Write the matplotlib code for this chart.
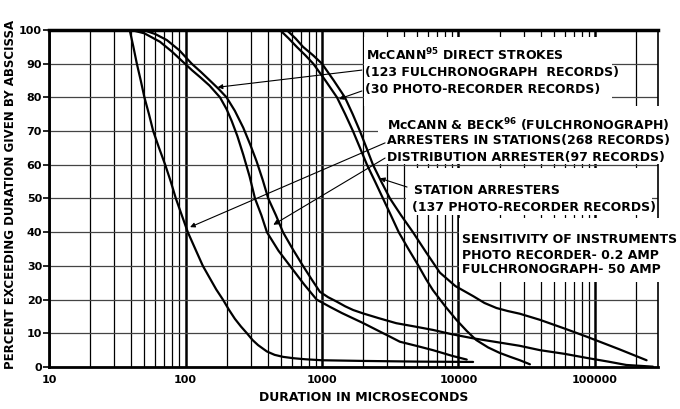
import numpy as np
import matplotlib
matplotlib.use("Agg")
import matplotlib.pyplot as plt
from matplotlib.patches import Rectangle
from matplotlib.ticker import LogLocator, NullFormatter

# duration (microseconds) vs percent exceeding
arr_x = [39, 41.5, 44, 47, 50, 54, 58, 64, 71, 78, 85, 94, 104, 118, 134, 150, 168, 188, 208,
         230, 255, 282, 310, 340, 395, 450, 520, 620, 750, 1000, 2000, 5000, 12800]
arr_y = [100, 95, 90, 85, 80, 75, 70, 65, 60, 55, 50, 45, 40, 35, 30, 26.5, 23, 20, 17,
         14.3, 12, 10, 8, 6.5, 4.6, 3.6, 3, 2.6, 2.3, 2.0, 1.8, 1.6, 1.5]

pair1_x = [40, 50, 65, 80, 96, 112, 128, 150, 179, 200, 218, 240, 265, 295, 323, 360, 395, 480,
           583, 740, 914, 1150, 1400, 2010, 2600, 3150, 3720, 5000, 6500, 9000, 11500]
pair1_y = [100, 99, 96.5, 93.5, 90.5, 88, 86, 83.5, 80, 76.5, 73, 68.5, 63, 56.5, 50, 45, 40, 34.5,
           30, 24.5, 20, 17.8, 16, 13, 10.7, 9, 7.5, 6.2, 5, 3.3, 2.2]

pair2_x = [49, 60, 73, 90, 111, 130, 151, 175, 200, 230, 265, 298, 332, 368, 404, 460, 518, 610,
           726, 840, 966, 1110, 1282, 1480, 1694, 2000, 2600, 3500, 4800, 6500, 9000, 12850,
           19000, 28000, 39500, 60000, 87000, 125000, 170000, 266000]
pair2_y = [100, 98.8, 97, 94, 90, 87.5, 85, 82.5, 80, 76, 71, 66, 61, 55.5, 50, 45, 40, 35,
           30, 26, 22.3, 20.7, 19.4, 18, 16.9, 15.9, 14.5, 13, 12, 11, 9.7, 8.5,
           7.4, 6.3, 5, 3.9, 2.7, 1.6, 0.6, 0.1]

stat1_x = [492, 570, 653, 755, 863, 1060, 1288, 1480, 1687, 1900, 2137, 2450, 2800, 3200, 3650,
           4300, 5100, 5800, 6500, 8000, 9650, 11500, 13500, 16500, 20000, 24000, 28200, 33400]
stat1_y = [100, 97.5, 95, 92.5, 90, 85, 80, 75, 70, 65, 60, 55, 50, 45, 40,
           35, 30, 26, 22.8, 18, 14, 10.7, 8, 5.8, 4.2, 3, 2, 0.8]

stat2_x = [551, 640, 726, 860, 1000, 1220, 1473, 1680, 1897, 2120, 2364, 2720, 3150, 3800, 4640,
           5800, 7310, 9500, 12850, 15500, 19000, 23000, 28200, 39500, 60000, 87000, 150000, 239000]
stat2_y = [100, 97.5, 95, 92.5, 90, 85, 80, 75, 70, 65, 60, 55, 50, 45, 40,
           34, 28, 24, 21, 19, 17.5, 16.6, 15.8, 14, 11.4, 9, 5.3, 2]

x_ticks = [10, 100, 1000, 10000, 100000]
x_labels = ["10", "100", "1000", "10000", "100000"]
y_ticks = list(range(0, 101, 10))

fig = plt.figure(figsize=(6.8, 4.09), dpi=100)
ax = fig.add_axes([0.0721, 0.1027, 0.8956, 0.824])

for xs, ys in [(arr_x, arr_y), (pair1_x, pair1_y), (pair2_x, pair2_y),
               (stat1_x, stat1_y), (stat2_x, stat2_y)]:
    ax.plot(xs, ys, color="black", lw=1.6, zorder=4, solid_capstyle="round",
            solid_joinstyle="round")

ax.set_xscale("log")
ax.set_xlim(10, 2.9e5)
ax.set_ylim(0, 100)
ax.set_xticks(x_ticks)
ax.set_xticklabels(x_labels)
ax.xaxis.set_minor_locator(LogLocator(base=10, subs=np.arange(2, 10)))
ax.xaxis.set_minor_formatter(NullFormatter())
ax.set_yticks(y_ticks)

ax.grid(True, which="major", axis="x", color="black", lw=1.8)
ax.grid(True, which="minor", axis="x", color="black", lw=0.9)
ax.grid(True, which="major", axis="y", color="#444444", lw=0.9)
ax.set_axisbelow(True)

ax.tick_params(axis="x", which="both", length=0, pad=6, labelsize=8)
ax.tick_params(axis="y", length=4, width=1.2, pad=1, labelsize=8)
for lbl in ax.get_xticklabels() + ax.get_yticklabels():
    lbl.set_fontweight("bold")

ax.spines["top"].set_linewidth(2.5)
ax.spines["left"].set_linewidth(2)
ax.spines["bottom"].set_linewidth(2)
ax.spines["right"].set_linewidth(1.2)

# blank the grid behind the lettering
for (x0, x1, y0, y1) in [(2032, 133000, 77.4, 97.9), (2570, 420000, 60.2, 77.4),
                         (4120, 262000, 45.1, 59.0), (10100, 420000, 25.2, 44.2)]:
    ax.add_patch(Rectangle((x0, y0), x1 - x0, y1 - y0, facecolor="white",
                           edgecolor="none", zorder=3, clip_on=False))

txt = dict(fontsize=9, fontweight="bold", ha="left", va="center", zorder=5, clip_on=False)
ax.text(2100, 92.6, r"McCANN$^{\mathbf{95}}$ DIRECT STROKES", **txt)
ax.text(2050, 87.5, "(123 FULCHRONOGRAPH  RECORDS)", **txt)
ax.text(2050, 82.2, "(30 PHOTO-RECORDER RECORDS)", **txt)
ax.text(2995, 71.8, r"McCANN & BECK$^{\mathbf{96}}$ (FULCHRONOGRAPH)", **txt)
ax.text(2995, 67.1, "ARRESTERS IN STATIONS(268 RECORDS)", **txt)
ax.text(2995, 62.3, "DISTRIBUTION ARRESTER(97 RECORDS)", **txt)
ax.text(4720, 52.5, "STATION ARRESTERS", **txt)
ax.text(4600, 47.2, "(137 PHOTO-RECORDER RECORDS)", **txt)
ax.text(10600, 37.7, "SENSITIVITY OF INSTRUMENTS", **txt)
ax.text(10600, 33.2, "PHOTO RECORDER- 0.2 AMP", **txt)
ax.text(10600, 28.8, "FULCHRONOGRAPH- 50 AMP", **txt)

arrow = dict(arrowstyle="-|>", color="black", lw=0.8, mutation_scale=7, shrinkA=0, shrinkB=0)
for tip, tail in [((172, 83), (1960, 88.1)), ((1330, 79.5), (1960, 81.9)),
                  ((108, 41.5), (2900, 66.5)), ((440, 42.2), (2900, 62.0)),
                  ((2660, 56), (4200, 53.4))]:
    ax.annotate("", xy=tip, xytext=tail, arrowprops=arrow, zorder=5)

fig.text(0.535, 0.027, "DURATION IN MICROSECONDS", fontsize=9, fontweight="bold",
         ha="center", va="center")
fig.text(0.015, 0.525, "PERCENT EXCEEDING DURATION GIVEN BY ABSCISSA", fontsize=8.5,
         fontweight="bold", rotation=90, ha="center", va="center")

fig.savefig("out.png", dpi=100)
